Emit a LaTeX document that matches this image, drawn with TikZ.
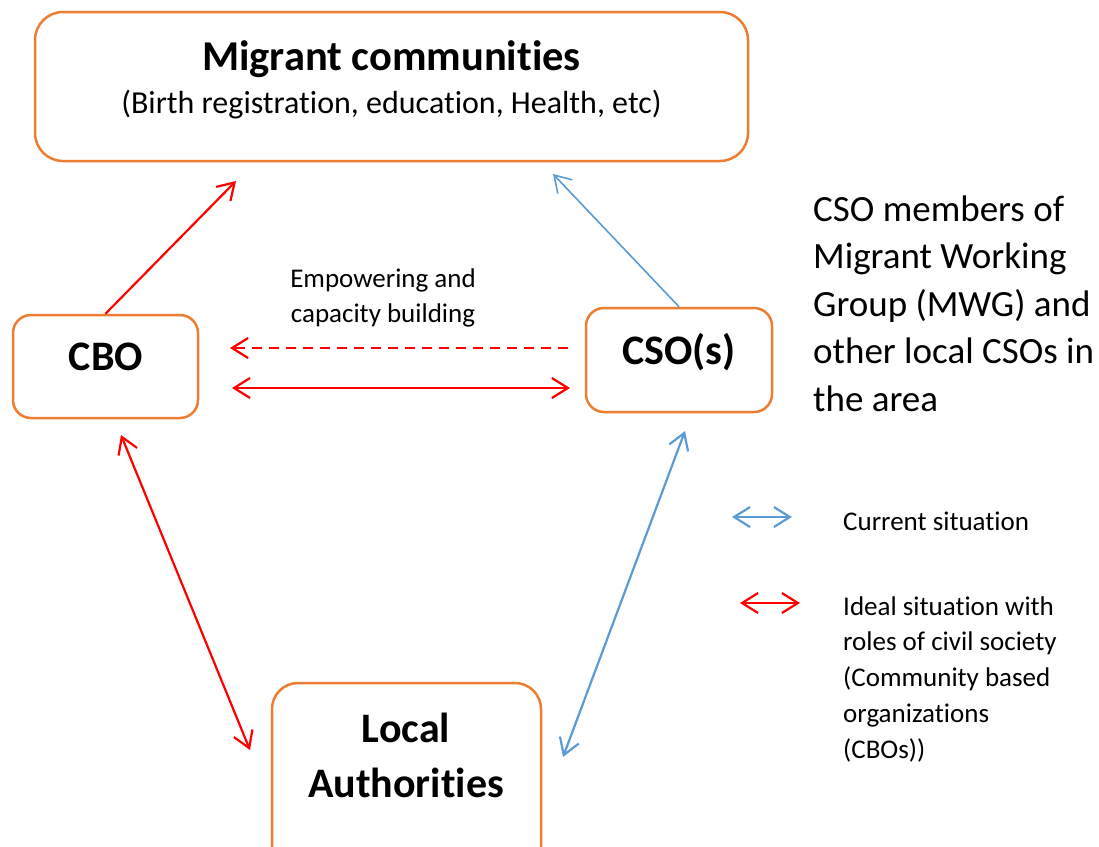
\documentclass[tikz,border=0pt]{standalone}
\usepackage{fontspec}
\setmainfont{Carlito}[RawFeature={-liga}]
\usetikzlibrary{arrows.meta}
\definecolor{boxorange}{RGB}{237,125,49}
\definecolor{linkblue}{RGB}{91,155,213}
\definecolor{linkred}{RGB}{255,0,0}

\begin{document}
\begin{tikzpicture}[x=1pt,y=-1pt,
  box/.style={draw=boxorange,line width=2.5pt,rounded corners=18pt,inner sep=0pt,fill=white},
  boxlabel/.style={inner sep=0pt,anchor=base,font=\fontsize{42}{50}\bfseries\selectfont},
  plain/.style={inner sep=0pt,anchor=base west,align=left},
  barb/.tip={Straight Barb[length=16pt,width=20pt]},
  redlink/.style={draw=linkred,line width=2.2pt},
  bluelink/.style={draw=linkblue,line width=2.2pt},
]
\useasboundingbox (0,0) rectangle (1099,846);
\clip (0,0) rectangle (1099,846);

% boxes
\node[box,rounded corners=28pt,minimum width=713pt,minimum height=149pt] (mig) at (391.5,86.5) {};
\node[box,minimum width=185pt,minimum height=103pt] (cbo) at (105.5,366.5) {};
\node[box,minimum width=186pt,minimum height=104pt] (cso) at (679,360) {};
\node[box,rounded corners=26pt,minimum width=269pt,minimum height=190pt] (la) at (406.5,778) {};

% box texts
\node[inner sep=0pt,anchor=base,font=\fontsize{42.5}{50}\bfseries\selectfont] (migtitle) at (391.5,70) {Migrant communities};
\node[inner sep=0pt,anchor=base,font=\fontsize{32}{38}\selectfont] (migsub) at (391.5,113) {(Birth registration, education, Health, etc)};
\node[boxlabel] (cbotext) at (106,370) {CBO};
\node[boxlabel] (csotext) at (679,364) {CSO(s)};
\node[boxlabel] (latext1) at (406,742) {Local};
\node[boxlabel] (latext2) at (406,797) {Authorities};

% free ends of the connectors
\coordinate (migA) at (236,181);
\coordinate (migB) at (553,174);
\coordinate (dashR) at (568,348);
\coordinate (dashL) at (230,348);
\coordinate (dblL) at (232,388);
\coordinate (dblR) at (570,388);
\coordinate (cboLow) at (121,435);
\coordinate (laLeft) at (250,750);
\coordinate (csoLow) at (685,431);
\coordinate (laRight) at (563,757);

% connectors
\draw[redlink,-barb] (cbo.north) -- (migA);
\draw[bluelink,line width=1.6pt,-barb] (cso.north) -- (migB);
\draw[redlink,-barb,dash pattern=on 10pt off 7pt] (dashR) -- (dashL);
\draw[redlink,barb-barb] (dblL) -- (dblR);
\draw[redlink,barb-barb] (cboLow) -- (laLeft);
\draw[bluelink,barb-barb] (csoLow) -- (laRight);

% edge label (base anchor sits on the last line)
\node[inner sep=0pt,anchor=base,align=center,font=\fontsize{27}{35}\selectfont] (emp) at (383,322) {Empowering and\\capacity building};

% side note
\node[plain,font=\fontsize{37}{47.5}\selectfont] (note) at (813,411) {CSO members of\\Migrant Working\\Group (MWG) and\\other local CSOs in\\the area};

% legend
\coordinate (lgB1) at (732,517);
\coordinate (lgB2) at (792,517);
\coordinate (lgR1) at (740,603);
\coordinate (lgR2) at (800,603);
\draw[bluelink,barb-barb] (lgB1) -- (lgB2);
\draw[redlink,barb-barb] (lgR1) -- (lgR2);
\node[plain,font=\fontsize{27}{35.7}\selectfont] (lgcur) at (843,530) {Current situation};
\node[plain,font=\fontsize{27}{35.7}\selectfont] (lgideal) at (843,758) {Ideal situation with\\roles of civil society\\(Community based\\organizations\\(CBOs))};
\end{tikzpicture}
\end{document}
